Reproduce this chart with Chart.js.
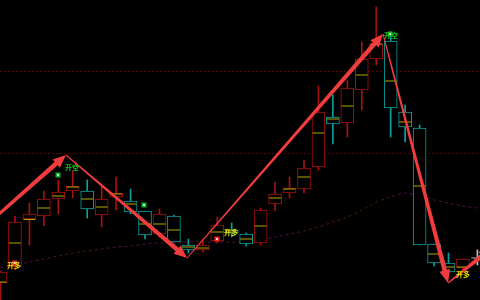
<!DOCTYPE html>
<html>
<head>
<meta charset="utf-8">
<script src="https://cdn.jsdelivr.net/npm/chart.js@4"></script>
<style>
  html, body { margin: 0; padding: 0; background: #000; }
  #contenedor { width: 480px; height: 300px; }
</style>
</head>
<body>
<div id="contenedor"><canvas id="graficoVelas" width="480" height="300"></canvas></div>
<script>
// Datos de las velas (unidades de precio arbitrarias)
const aperturas = [17, 33, 81, 84, 101, 109, 109, 85, 103, 99, 89, 66, 84, 55, 50, 59, 70, 66, 57, 96, 107, 111, 133, 183, 177, 210, 241, 259, 188, 172, 56, 37, 32, 42];
const maximos   = [29, 84, 97, 109, 120, 129, 120, 115, 123, 111, 89, 91, 85, 61, 61, 83, 77, 67, 92, 118, 123, 140, 214, 205, 220, 258, 293, 268, 195, 175, 56, 47, 41, 50];
const minimos   = [-5, 30, 55, 74, 86, 102, 82, 73, 90, 86, 61, 63, 58, 47, 48, 57, 63, 54, 55, 89, 102, 107, 130, 156, 163, 190, 235, 163, 158, 55, 34, 27, 30, 35];
const cierres   = [28, 78, 86, 101, 108, 114, 91, 101, 107, 88, 65, 86, 58, 50, 55, 75, 67, 56, 90, 106, 112, 132, 188, 176, 212, 241, 256, 192, 173, 55, 37, 28, 41, 42];
const medios    = [18, 57, 80.5, 92, 104, 113, 101, 93, 106, 96, 76, 76, 70, 53, 52, 68, 69, 61, 74, 102, 111, 123, 167, 181, 194, 225, 256, 219, 178, 114, 46, 33, 33, 42];

// Media móvil
const mediaMovil = [32, 35, 38, 41, 44, 47, 49, 51, 53, 54, 56, 57, 57, 58, 58, 58, 58, 58, 60, 63, 66, 69, 73, 78, 83, 90, 98, 103, 107, 104, 100, 97, 94, 92];

// Zigzag de flechas (índice de vela, precio)
const zigzagIndice = [-6, 4.53, 12.91, 26.47, 30.97, 34];
const zigzagPrecio = [11, 145, 42, 266, 17, 52];

// Señales de texto
const senalesTexto  = ['开多', '开空', '开多', '开空', '开多'];
const senalesIndice = [0.93, 4.95, 15.95, 27.02, 32.0];
const senalesPrecio = [35, 133, 68, 265, 26];
const senalesTipo   = ['compra', 'venta', 'compra', 'venta', 'compra'];

// Marcadores pequeños
const marcasIndice = [0.98, 3.98, 9.93, 14.98, 26.96];
const marcasPrecio = [37, 125, 95, 61, 266];
const marcasTipo   = ['compra', 'venta', 'venta', 'compra', 'venta'];

// Líneas de cuadrícula
const nivelesGrid = [147, 229];

const colorSube = '#a81010';
const colorBaja = '#0aa0a0';
const colorNeutro = '#c0c0c0';

function colorVela(i) {
    if (cierres[i] > aperturas[i]) return colorSube;
    if (cierres[i] < aperturas[i]) return colorBaja;
    return colorNeutro;
}

const indices = aperturas.map((_, i) => i);
const colores = indices.map(i => colorVela(i));

// Plugin para dibujar las flechas del zigzag
const pluginFlechas = {
    id: 'flechas',
    afterDatasetsDraw(chart) {
        const ctx = chart.ctx;
        const xs = chart.scales.x, ys = chart.scales.y;
        ctx.save();
        ctx.fillStyle = '#f03c3c';
        for (let k = 0; k < zigzagIndice.length - 1; k++) {
            const x0 = xs.getPixelForValue(zigzagIndice[k]), y0 = ys.getPixelForValue(zigzagPrecio[k]);
            const x1 = xs.getPixelForValue(zigzagIndice[k + 1]), y1 = ys.getPixelForValue(zigzagPrecio[k + 1]);
            const dx = x1 - x0, dy = y1 - y0, largo = Math.hypot(dx, dy);
            const ux = dx / largo, uy = dy / largo, nx = -uy, ny = ux;
            const punta = 13, ancho0 = 0.5, ancho1 = 2.3, anchoPunta = 5.5;
            const bx = x1 - ux * punta, by = y1 - uy * punta;
            ctx.beginPath();
            ctx.moveTo(x0 + nx * ancho0, y0 + ny * ancho0);
            ctx.lineTo(bx + nx * ancho1, by + ny * ancho1);
            ctx.lineTo(bx + nx * anchoPunta, by + ny * anchoPunta);
            ctx.lineTo(x1, y1);
            ctx.lineTo(bx - nx * anchoPunta, by - ny * anchoPunta);
            ctx.lineTo(bx - nx * ancho1, by - ny * ancho1);
            ctx.lineTo(x0 - nx * ancho0, y0 - ny * ancho0);
            ctx.closePath();
            ctx.fill();
        }
        // textos de señales
        ctx.font = 'bold 7px "Noto Sans CJK SC"';
        ctx.textAlign = 'center';
        ctx.textBaseline = 'middle';
        senalesTexto.forEach((t, k) => {
            ctx.fillStyle = senalesTipo[k] === 'compra' ? '#e6e600' : '#18c018';
            ctx.fillText(t, xs.getPixelForValue(senalesIndice[k]), ys.getPixelForValue(senalesPrecio[k]));
        });
        ctx.restore();
    }
};

const ctx = document.getElementById('graficoVelas').getContext('2d');

new Chart(ctx, {
    type: 'bar',
    data: {
        datasets: [
            {
                // marca amarilla dentro de cada vela
                type: 'line',
                order: 1,
                showLine: false,
                data: indices.map(i => ({ x: i, y: medios[i] })),
                pointStyle: 'line',
                pointRadius: 6,
                pointBorderWidth: 1,
                pointBorderColor: indices.map(i => cierres[i] === aperturas[i] ? colorNeutro : '#b0a800')
            },
            {
                // marcadores
                type: 'line',
                order: 0,
                showLine: false,
                data: marcasIndice.map((x, k) => ({ x: x, y: marcasPrecio[k] })),
                pointStyle: 'rect',
                pointRadius: 2.5,
                pointBorderWidth: 1.5,
                pointBackgroundColor: marcasTipo.map(t => t === 'compra' ? '#ffd0d0' : '#b0ffc0'),
                pointBorderColor: marcasTipo.map(t => t === 'compra' ? '#ff2020' : '#10b030')
            },
            {
                // cuerpos huecos
                order: 2,
                grouped: false,
                data: indices.map(i => ({ x: i, y: [aperturas[i], cierres[i]] })),
                backgroundColor: '#000',
                borderColor: colores,
                borderWidth: 1,
                borderSkipped: false,
                barThickness: 13
            },
            {
                // mechas
                order: 3,
                grouped: false,
                data: indices.map(i => ({ x: i, y: [minimos[i], maximos[i]] })),
                backgroundColor: colores,
                borderWidth: 0,
                barThickness: 1
            },
            {
                type: 'line',
                order: 4,
                data: indices.map(i => ({ x: i, y: mediaMovil[i] })),
                borderColor: '#501040',
                borderWidth: 1,
                borderDash: [3, 3],
                pointRadius: 0,
                tension: 0.3
            }
        ]
    },
    options: {
        responsive: false,
        animation: false,
        layout: { padding: 0, autoPadding: false },
        plugins: { legend: { display: false }, tooltip: { enabled: false } },
        scales: {
            x: {
                type: 'linear',
                display: false,
                offset: false,
                min: -0.035,
                max: 33.18
            },
            y: {
                min: 0,
                max: 300,
                afterBuildTicks: (eje) => { eje.ticks = nivelesGrid.map(v => ({ value: v })); },
                ticks: { display: false },
                grid: { color: '#600000', drawTicks: false, lineWidth: 1 },
                border: { display: false, dash: [2, 2] }
            }
        }
    },
    plugins: [pluginFlechas]
});
</script>
</body>
</html>
